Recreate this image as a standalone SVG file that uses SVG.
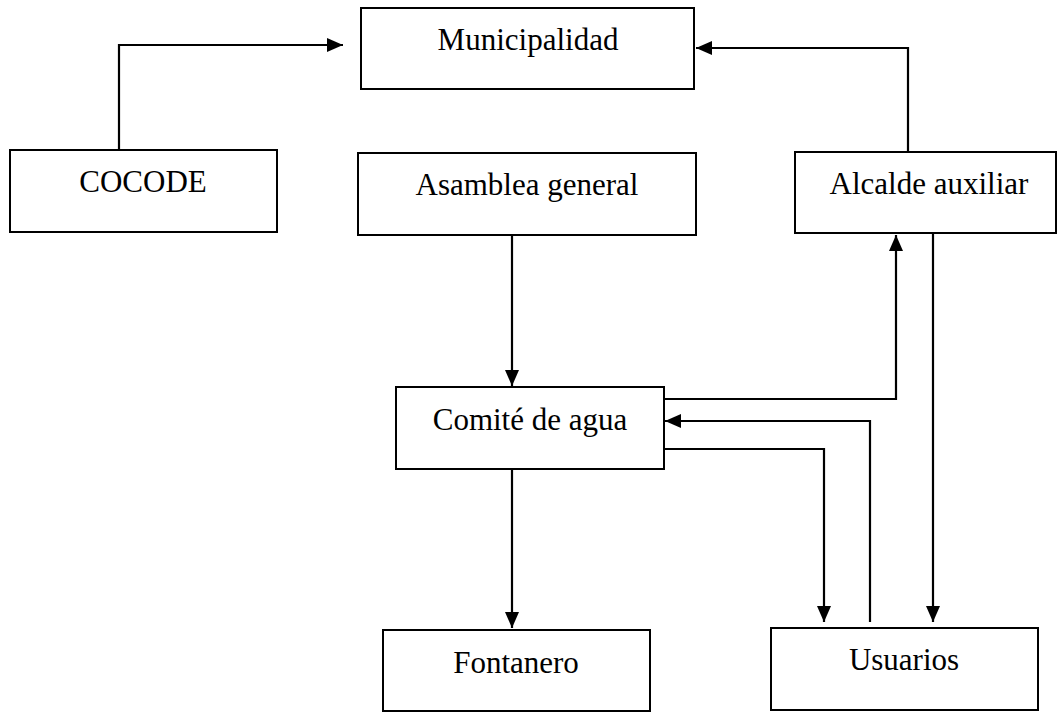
<svg xmlns="http://www.w3.org/2000/svg" width="1058" height="712" viewBox="0 0 1058 712">
  <style>
    .box { fill: #ffffff; stroke: #000000; stroke-width: 2; }
    .lbl { font-family: "Liberation Serif", "Times New Roman", serif; font-size: 31px; fill: #000000; text-anchor: middle; }
    .conn { fill: none; stroke: #000000; stroke-width: 2.2; }
    .arr { marker-end: url(#ah); }
  </style>
  <defs>
    <marker id="ah" markerUnits="userSpaceOnUse" markerWidth="17" markerHeight="15" refX="16" refY="7" orient="auto">
      <path d="M0,0 L16,7 L0,14 Z" fill="#000000"/>
    </marker>
  </defs>
  <rect width="1058" height="712" fill="#ffffff"/>

  <g id="municipalidad">
    <rect class="box" x="361" y="8" width="333" height="81"/>
    <text class="lbl" x="528" y="50">Municipalidad</text>
  </g>
  <g id="cocode">
    <rect class="box" x="10" y="150" width="267" height="82"/>
    <text class="lbl" x="143" y="192">COCODE</text>
  </g>
  <g id="asamblea">
    <rect class="box" x="358" y="153" width="338" height="82"/>
    <text class="lbl" x="527" y="195">Asamblea general</text>
  </g>
  <g id="alcalde">
    <rect class="box" x="795" y="152" width="261" height="81"/>
    <text class="lbl" x="929" y="194">Alcalde auxiliar</text>
  </g>
  <g id="comite">
    <rect class="box" x="396" y="387" width="268" height="82"/>
    <text class="lbl" x="530" y="430">Comité de agua</text>
  </g>
  <g id="fontanero">
    <rect class="box" x="383" y="630" width="267" height="81"/>
    <text class="lbl" x="516" y="673">Fontanero</text>
  </g>
  <g id="usuarios">
    <rect class="box" x="771" y="628" width="267" height="82"/>
    <text class="lbl" x="904" y="670">Usuarios</text>
  </g>

  <g id="connectors">
    <path class="conn arr" d="M119,150 V45 H343"/>
    <path class="conn arr" d="M908,152 V48 H696"/>
    <path class="conn arr" d="M512,235 V386"/>
    <path class="conn arr" d="M512,469 V628"/>
    <path class="conn arr" d="M664,399 H896 V235"/>
    <path class="conn arr" d="M870,622 V421 H665"/>
    <path class="conn arr" d="M664,449 H824 V622"/>
    <path class="conn arr" d="M933,233 V622"/>
  </g>
</svg>
